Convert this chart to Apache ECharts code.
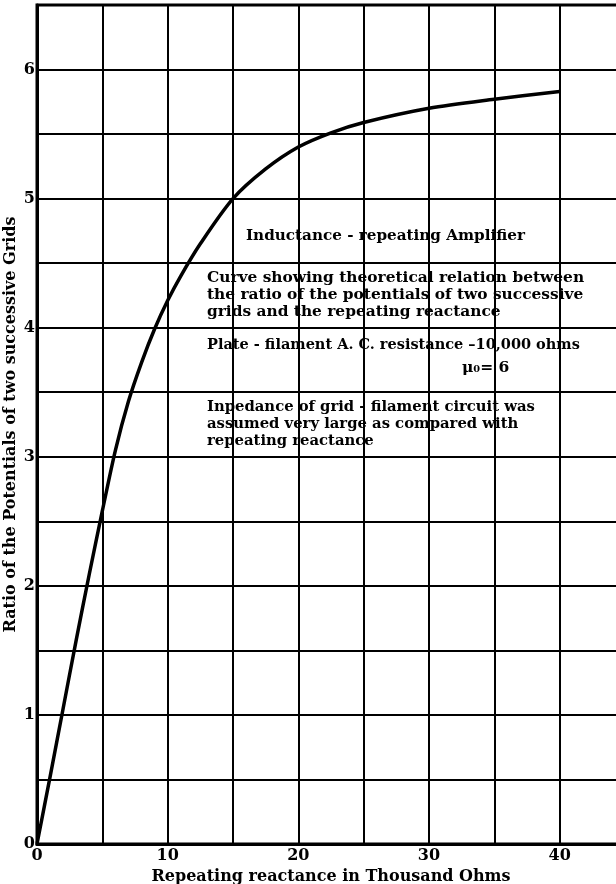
<!DOCTYPE html>
<html>
<head>
<meta charset="utf-8">
<script src="https://cdn.jsdelivr.net/npm/echarts@6/dist/echarts.min.js"></script>
<style>
  html, body { margin: 0; padding: 0; background: #fff; }
  #chart { width: 616px; height: 884px; }
</style>
</head>
<body>
<div id="chart"></div>
<script>
// Repeating reactance (thousand ohms) and grid-potential ratio
const reactance = [0, 1, 2, 3, 4, 5, 6, 7, 8, 9, 10, 11, 12.5, 15, 17.5, 20, 22.5, 25, 30, 35, 40];
const ratio     = [0, 0.52, 1.05, 1.58, 2.09, 2.58, 3.05, 3.43, 3.73, 3.99, 4.21, 4.40, 4.65, 5.0, 5.23, 5.40, 5.51, 5.59, 5.70, 5.77, 5.83];

const xTickLabels = [0, 10, 20, 30, 40];
const yTickLabels = [0, 1, 2, 3, 4, 5, 6];

const xTitle = 'Repeating reactance in Thousand Ohms';
const yTitle = 'Ratio of the Potentials of two successive Grids';

const noteTitle = 'Inductance - repeating Amplifier';
const noteCurve = [
  'Curve showing theoretical relation between',
  'the ratio of the potentials of two successive',
  'grids and the repeating reactance'
];
const notePlate = 'Plate - filament A. C. resistance –10,000 ohms';
const noteMu = 'μ₀= 6';
const noteGrid = [
  'Inpedance of grid - filament circuit was',
  'assumed very large as compared with',
  'repeating reactance'
];

const FONT = '"DejaVu Serif", serif';
const INK = '#000';

const chart = echarts.init(document.getElementById('chart'), null, { renderer: 'canvas' });

function noteText(text, left, top, size) {
  return {
    type: 'text', left: left, top: top, z: 10,
    style: { text: text, font: 'bold ' + size + 'px ' + FONT, fill: INK }
  };
}

const lineH = 17;
const graphics = [
  noteText(noteTitle, 246, 229, 15.2),
  ...noteCurve.map((t, i) => noteText(t, 207, 270 + i * lineH, 15.4)),
  noteText(notePlate, 207, 338, 14.5),
  noteText(noteMu, 462, 360, 15.5),
  ...noteGrid.map((t, i) => noteText(t, 207, 400 + i * lineH, 14.8))
];

chart.setOption({
  animation: false,
  backgroundColor: '#fff',
  grid: {
    left: 37, right: -9, top: 5, bottom: 40,
    containLabel: false, outerBoundsMode: 'none',
    show: true, borderColor: INK, borderWidth: 3
  },
  xAxis: {
    type: 'value', min: 0, max: 45, interval: 5,
    name: xTitle, nameLocation: 'middle', nameGap: 21,
    nameTextStyle: { fontFamily: FONT, fontWeight: 'bold', fontSize: 16, color: INK },
    axisLine: { show: true, lineStyle: { color: INK, width: 3 } },
    axisTick: { show: false },
    axisLabel: {
      margin: 4, fontFamily: FONT, fontWeight: 'bold', fontSize: 16, color: INK,
      formatter: v => xTickLabels.includes(v) ? String(v) : ''
    },
    splitLine: { show: true, lineStyle: { color: INK, width: 2 } }
  },
  yAxis: {
    type: 'value', min: 0, max: 6.5, interval: 0.5,
    name: yTitle, nameLocation: 'middle', nameGap: 18, nameRotate: 90,
    nameMoveOverlap: false,
    nameTextStyle: { fontFamily: FONT, fontWeight: 'bold', fontSize: 16, color: INK },
    axisLine: { show: true, lineStyle: { color: INK, width: 3 } },
    axisTick: { show: false },
    axisLabel: {
      margin: 2, fontFamily: FONT, fontWeight: 'bold', fontSize: 16, color: INK,
      formatter: v => yTickLabels.includes(v) ? String(v) : ''
    },
    splitLine: { show: true, lineStyle: { color: INK, width: 2 } }
  },
  series: [{
    type: 'line',
    data: reactance.map((x, i) => [x, ratio[i]]),
    smooth: 0.3,
    showSymbol: false,
    lineStyle: { color: INK, width: 3.5 },
    z: 5
  }],
  graphic: graphics
});
</script>
</body>
</html>
